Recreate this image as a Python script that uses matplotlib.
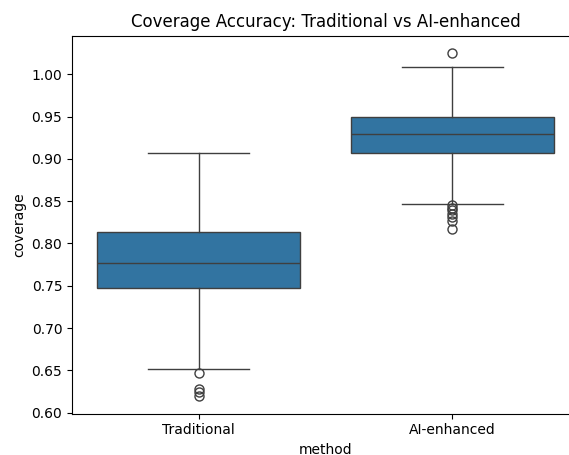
import matplotlib
matplotlib.use("Agg")
import matplotlib.pyplot as plt

methods = ["Traditional", "AI-enhanced"]
q1 = [0.747, 0.9073]
med = [0.7773, 0.9291]
q3 = [0.8132, 0.9492]
whislo = [0.6517, 0.8463]
whishi = [0.9066, 1.009]
fliers_trad = [0.647, 0.628, 0.624, 0.620]
fliers_ai = [1.0248, 0.845, 0.842, 0.839, 0.835, 0.831, 0.827, 0.817]
fliers = [fliers_trad, fliers_ai]

stats = []
for i, m in enumerate(methods):
    stats.append(dict(label=m, med=med[i], q1=q1[i], q3=q3[i],
                      whislo=whislo[i], whishi=whishi[i], fliers=fliers[i]))

fig = plt.figure(figsize=(5.69, 4.55), dpi=100)
ax = fig.add_axes([72 / 569, (455 - 413.7) / 455, 507 / 569, 378 / 455])

line_c = "#3f3f3f"
lw = 1.0
ax.bxp(stats, positions=[0, 1], widths=0.8, patch_artist=True,
       showfliers=True,
       boxprops=dict(facecolor="#3274a1", edgecolor=line_c, linewidth=lw),
       medianprops=dict(color=line_c, linewidth=lw),
       whiskerprops=dict(color=line_c, linewidth=lw),
       capprops=dict(color=line_c, linewidth=lw),
       flierprops=dict(marker="o", markerfacecolor="none",
                       markeredgecolor=line_c, markersize=6.5, linewidth=0),
       capwidths=0.4)

ax.set_xlim(-0.5, 1.5)
ax.set_ylim(0.5988, 1.0456)
ax.set_yticks([0.60, 0.65, 0.70, 0.75, 0.80, 0.85, 0.90, 0.95, 1.00])
ax.set_yticklabels([f"{v:.2f}" for v in ax.get_yticks()])
ax.set_xticks([0, 1])
ax.set_xticklabels(methods)
ax.set_xlabel("method")
ax.set_ylabel("coverage")
ax.set_title("Coverage Accuracy: Traditional vs AI-enhanced", fontsize=12)

fig.savefig("out.png", dpi=100)
